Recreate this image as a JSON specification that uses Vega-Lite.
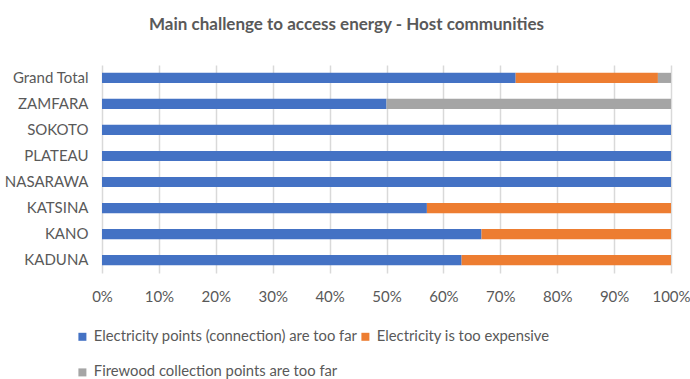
{
  "$schema": "https://vega.github.io/schema/vega-lite/v6.json",
  "autosize": {"type": "none"},
  "width": 569,
  "height": 208,
  "padding": {"left": 102, "top": 65, "right": 19, "bottom": 106},
  "background": "white",
  "title": {
    "text": "Main challenge to access energy - Host communities",
    "anchor": "middle",
    "dx": -40,
    "offset": 31,
    "font": "Lato",
    "fontSize": 17,
    "fontWeight": "bold",
    "color": "#595959"
  },
  "data": {
    "values": [
      {"region": "Grand Total", "challenge": "Electricity points (connection) are too far", "k": 1, "pct": 72.7},
      {"region": "Grand Total", "challenge": "Electricity is too expensive", "k": 2, "pct": 25.0},
      {"region": "Grand Total", "challenge": "Firewood collection points are too far", "k": 3, "pct": 2.3},
      {"region": "ZAMFARA", "challenge": "Electricity points (connection) are too far", "k": 1, "pct": 50},
      {"region": "ZAMFARA", "challenge": "Firewood collection points are too far", "k": 3, "pct": 50},
      {"region": "SOKOTO", "challenge": "Electricity points (connection) are too far", "k": 1, "pct": 100},
      {"region": "PLATEAU", "challenge": "Electricity points (connection) are too far", "k": 1, "pct": 100},
      {"region": "NASARAWA", "challenge": "Electricity points (connection) are too far", "k": 1, "pct": 100},
      {"region": "KATSINA", "challenge": "Electricity points (connection) are too far", "k": 1, "pct": 57.1},
      {"region": "KATSINA", "challenge": "Electricity is too expensive", "k": 2, "pct": 42.9},
      {"region": "KANO", "challenge": "Electricity points (connection) are too far", "k": 1, "pct": 66.7},
      {"region": "KANO", "challenge": "Electricity is too expensive", "k": 2, "pct": 33.3},
      {"region": "KADUNA", "challenge": "Electricity points (connection) are too far", "k": 1, "pct": 63.2},
      {"region": "KADUNA", "challenge": "Electricity is too expensive", "k": 2, "pct": 36.8}
    ]
  },
  "mark": {"type": "bar"},
  "encoding": {
    "y": {
      "field": "region",
      "type": "nominal",
      "sort": ["Grand Total", "ZAMFARA", "SOKOTO", "PLATEAU", "NASARAWA", "KATSINA", "KANO", "KADUNA"],
      "scale": {"paddingInner": 0.61, "paddingOuter": 0.3},
      "axis": {
        "title": null,
        "domain": false,
        "ticks": false,
        "labelPadding": 14,
        "labelFont": "Lato",
        "labelFontSize": 15,
        "labelColor": "#595959"
      }
    },
    "x": {
      "field": "pct",
      "type": "quantitative",
      "stack": "zero",
      "scale": {"domain": [0, 100], "nice": false},
      "axis": {
        "title": null,
        "values": [0, 10, 20, 30, 40, 50, 60, 70, 80, 90, 100],
        "labelExpr": "datum.value + '%'",
        "domain": false,
        "ticks": false,
        "grid": true,
        "gridColor": "#d9d9d9",
        "gridWidth": 1.5,
        "labelPadding": 16,
        "labelFont": "Lato",
        "labelFontSize": 15,
        "labelColor": "#595959",
        "labelFlush": false
      }
    },
    "color": {
      "field": "challenge",
      "type": "nominal",
      "scale": {
        "domain": ["Electricity points (connection) are too far", "Electricity is too expensive", "Firewood collection points are too far"],
        "range": ["#4472C4", "#ED7D31", "#A5A5A5"]
      },
      "legend": {
        "title": null,
        "orient": "none",
        "legendX": -27,
        "legendY": 264,
        "direction": "horizontal",
        "columns": 2,
        "symbolType": "square",
        "symbolSize": 64,
        "symbolStrokeWidth": 0,
        "labelFont": "Lato",
        "labelFontSize": 14.8,
        "labelColor": "#595959",
        "labelOffset": 4,
        "columnPadding": -4,
        "rowPadding": 20,
        "labelLimit": 400
      }
    },
    "order": {"field": "k", "type": "quantitative"}
  },
  "config": {"view": {"stroke": null}}
}
